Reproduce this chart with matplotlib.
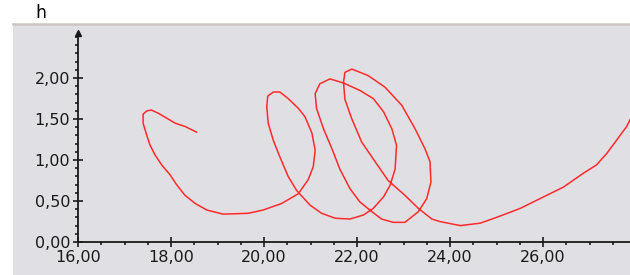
import matplotlib
matplotlib.use('Agg')
import matplotlib.pyplot as plt
from matplotlib.patches import Rectangle
from matplotlib.ticker import MultipleLocator, FixedLocator, FuncFormatter

# traced curve points (x, h), in drawing order
x_vals = [18.55, 18.30, 18.09, 17.91, 17.73, 17.58, 17.48, 17.40, 17.40, 17.48,
          17.55, 17.66, 17.80, 17.98, 18.12, 18.30, 18.52, 18.77, 19.12, 19.66,
          19.98, 20.38, 20.74, 20.95, 21.06, 21.10, 21.03, 20.88, 20.74, 20.52,
          20.34, 20.20, 20.08, 20.06, 20.09, 20.20, 20.34, 20.52, 20.70, 20.99,
          21.24, 21.53, 21.85, 22.14, 22.35, 22.57, 22.71, 22.82, 22.85, 22.75,
          22.57, 22.35, 22.06, 21.71, 21.42, 21.20, 21.10, 21.13, 21.28, 21.46,
          21.63, 21.85, 22.06, 22.32, 22.53, 22.78, 23.03, 23.32, 23.50, 23.59,
          23.57, 23.46, 23.25, 22.96, 22.60, 22.24, 21.89, 21.74, 21.71, 21.74,
          21.89, 22.10, 22.39, 22.67, 23.03, 23.32, 23.61, 23.78, 24.22, 24.65,
          25.00, 25.51, 26.01, 26.44, 26.87, 27.15, 27.37, 27.58, 27.80, 27.87,
          28.09]
h_vals = [1.34, 1.41, 1.45, 1.51, 1.57, 1.61, 1.60, 1.56, 1.45, 1.30,
          1.18, 1.06, 0.94, 0.82, 0.70, 0.57, 0.47, 0.39, 0.34, 0.35,
          0.39, 0.47, 0.59, 0.76, 0.92, 1.12, 1.33, 1.53, 1.63, 1.75,
          1.83, 1.83, 1.78, 1.65, 1.45, 1.24, 1.04, 0.80, 0.63, 0.45,
          0.35, 0.29, 0.28, 0.33, 0.41, 0.55, 0.69, 0.89, 1.18, 1.38,
          1.59, 1.75, 1.85, 1.94, 1.99, 1.93, 1.81, 1.63, 1.38, 1.14,
          0.89, 0.65, 0.49, 0.37, 0.28, 0.24, 0.24, 0.37, 0.53, 0.73,
          0.98, 1.14, 1.38, 1.67, 1.89, 2.03, 2.11, 2.07, 1.95, 1.74,
          1.50, 1.22, 0.98, 0.75, 0.57, 0.41, 0.28, 0.25, 0.20, 0.23,
          0.30, 0.41, 0.55, 0.67, 0.84, 0.94, 1.08, 1.24, 1.41, 1.49,
          1.67]
y_major = [0.0, 0.5, 1.0, 1.5, 2.0]

W, H = 630, 275
fig = plt.figure(figsize=(W / 100, H / 100), dpi=100)

# grey panel behind the plot
panel_bg = '#e0e0e4'
fig.patches.append(Rectangle((13 / W, 0), 1 - 13 / W, (H - 24) / H,
                             transform=fig.transFigure, facecolor=panel_bg,
                             edgecolor='none', zorder=0))
fig.add_artist(plt.Line2D([13 / W, 1], [(H - 24) / H, (H - 24) / H],
                          transform=fig.transFigure, color='#cbc7c0', lw=1.8))

ax = fig.add_axes([78 / W, 33 / H, (W - 78) / W, (242 - 33) / H])
ax.set_zorder(5)
ax.set_facecolor('none')

ax.plot(x_vals, h_vals, color='#ff2a2a', lw=1.1, solid_joinstyle='round')

ax.set_xlim(16, 16 + (W - 78) / 46.5)
ax.set_ylim(0, 2.55)

for s in ('top', 'right'):
    ax.spines[s].set_visible(False)
for s in ('left', 'bottom'):
    ax.spines[s].set_linewidth(1.3)
    ax.spines[s].set_color('#1a1a1a')

# arrow at the top of the y axis
ax.plot([16], [1], marker='^', color='#1a1a1a', markersize=5,
        transform=ax.get_xaxis_transform(), clip_on=False)

ax.xaxis.set_major_locator(MultipleLocator(2))
ax.xaxis.set_minor_locator(MultipleLocator(0.5))
ax.yaxis.set_major_locator(FixedLocator(y_major))
ax.yaxis.set_minor_locator(MultipleLocator(0.1))
comma = FuncFormatter(lambda v, p: f'{v:.2f}'.replace('.', ','))
ax.xaxis.set_major_formatter(comma)
ax.yaxis.set_major_formatter(comma)

ax.tick_params(which='major', direction='inout', length=7, width=1.2,
               labelsize=11.5, colors='#1a1a1a', pad=2)
ax.tick_params(which='minor', direction='out', length=2.5, width=1.2,
               colors='#1a1a1a')

fig.text(41 / W, 1 - 13 / H, 'h', fontsize=12.5, ha='center', va='center')

fig.savefig('out.png', dpi=100)
